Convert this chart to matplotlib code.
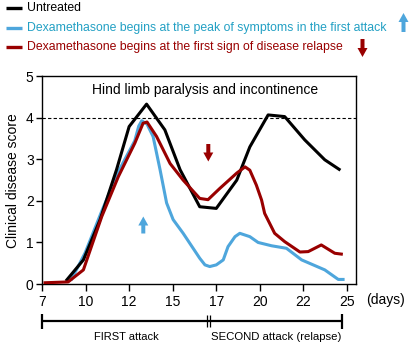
import matplotlib
matplotlib.use("Agg")
import matplotlib.pyplot as plt
from matplotlib.patches import FancyArrow

plt.rcParams['font.family'] = ['Liberation Sans', 'DejaVu Sans']

# x positions are in tick-index units (tick i carries tick_labels[i])
tick_labels = ["7", "10", "12", "15", "17", "20", "22", "25"]

untreated_x = [0.57, 0.95, 1.33, 1.71, 2.00, 2.40, 2.82, 3.17, 3.62, 4.00, 4.47, 4.77, 5.19, 5.57, 6.03, 6.49, 6.82]
untreated_y = [0.10, 0.58, 1.54, 2.75, 3.79, 4.33, 3.71, 2.75, 1.86, 1.82, 2.50, 3.30, 4.07, 4.03, 3.47, 2.99, 2.76]

peak_x = [0.68, 0.99, 1.37, 1.75, 2.13, 2.22, 2.29, 2.41, 2.55, 2.71, 2.86, 3.01, 3.24, 3.62, 3.74, 3.85, 4.00, 4.16, 4.27, 4.43, 4.54, 4.77, 4.96, 5.27, 5.61, 5.96, 6.49, 6.80, 6.91]
peak_y = [0.12, 0.75, 1.75, 2.70, 3.45, 3.80, 3.93, 3.85, 3.55, 2.75, 1.95, 1.55, 1.22, 0.62, 0.46, 0.42, 0.46, 0.58, 0.90, 1.14, 1.22, 1.14, 1.00, 0.92, 0.86, 0.58, 0.34, 0.11, 0.11]

relapse_x = [0.07, 0.60, 0.95, 1.37, 1.75, 2.13, 2.32, 2.41, 2.63, 2.94, 3.24, 3.62, 3.81, 4.08, 4.47, 4.66, 4.77, 4.92, 5.04, 5.11, 5.34, 5.57, 5.92, 6.11, 6.41, 6.72, 6.87]
relapse_y = [0.03, 0.05, 0.34, 1.62, 2.58, 3.39, 3.87, 3.90, 3.55, 2.90, 2.50, 2.06, 2.03, 2.30, 2.67, 2.82, 2.74, 2.38, 2.02, 1.70, 1.22, 1.02, 0.77, 0.78, 0.94, 0.74, 0.72]

legend_labels = ["Untreated",
                 "Dexamethasone begins at the peak of symptoms in the first attack",
                 "Dexamethasone begins at the first sign of disease relapse"]
line_colors = ["#000000", "#4ea6dc", "#990000"]
text_colors = ["#000000", "#22a0c4", "#990000"]

W, H = 411, 344
fig = plt.figure(figsize=(W / 100, H / 100), dpi=100)
ax = fig.add_axes([42 / W, 60 / H, 313.7 / W, 207.7 / H])

ax.plot(untreated_x, untreated_y, color=line_colors[0], lw=2.2, zorder=3, solid_joinstyle='round')
ax.plot(peak_x, peak_y, color=line_colors[1], lw=2.2, zorder=2, solid_joinstyle='round')
ax.plot(relapse_x, relapse_y, color=line_colors[2], lw=2.2, zorder=4, solid_joinstyle='round')
ax.axhline(4, color='black', lw=0.8, ls=(0, (3, 2)), zorder=1)

ax.set_xlim(0, 7.2)
ax.set_ylim(0, 5)
ax.set_xticks(range(len(tick_labels)))
ax.set_xticklabels(tick_labels)
ax.set_yticks([0, 1, 2, 3, 4, 5])
ax.tick_params(axis='x', direction='out', length=5, width=1, pad=3, labelsize=10)
ax.tick_params(axis='y', direction='out', length=4, width=1, pad=2, labelsize=10)
ax.set_ylabel("Clinical disease score", fontsize=10, labelpad=4)
for s in ax.spines.values():
    s.set_linewidth(1)
ax.text(0.52, 0.935, "Hind limb paralysis and incontinence", transform=ax.transAxes,
        ha='center', va='center', fontsize=10)

# overlay in pixel coordinates for legend, arrows and brackets
ov = fig.add_axes([0, 0, 1, 1], facecolor='none')
ov.set_xlim(0, W)
ov.set_ylim(H, 0)
ov.axis('off')

ys = [8, 27.5, 47]
for lab, lc, tc, y in zip(legend_labels, line_colors, text_colors, ys):
    ov.plot([6, 22], [y, y], color=lc, lw=2.4, solid_capstyle='butt')
    ov.text(27, y, lab, color=tc, fontsize=8.85, va='center', ha='left')

def arrow(x, y0, y1, color):
    d = y1 - y0
    ov.add_patch(FancyArrow(x, y0, 0, d, width=4, head_width=10, head_length=9,
                            length_includes_head=True, color=color, lw=0))

arrow(403.5, 32, 13, line_colors[1])
arrow(362.5, 39, 57, line_colors[2])
arrow(143.3, 233.5, 216.5, line_colors[1])
arrow(208.3, 144, 161.5, line_colors[2])

ov.text(366, 300, "(days)", fontsize=10, ha='left', va='center')

yb = 321
ov.plot([42, 342], [yb, yb], color='black', lw=1.6, solid_capstyle='butt')
for xx in (42, 342):
    ov.plot([xx, xx], [313.5, 328.5], color='black', lw=1.6, solid_capstyle='butt')
for xx in (206.5, 209.5):
    ov.plot([xx, xx], [315, 327], color='black', lw=0.9, solid_capstyle='butt')
ov.text(126, 337, "FIRST attack", fontsize=8, ha='center', va='center')
ov.text(276, 337, "SECOND attack (relapse)", fontsize=8.2, ha='center', va='center')

fig.savefig("out.png", dpi=100)
